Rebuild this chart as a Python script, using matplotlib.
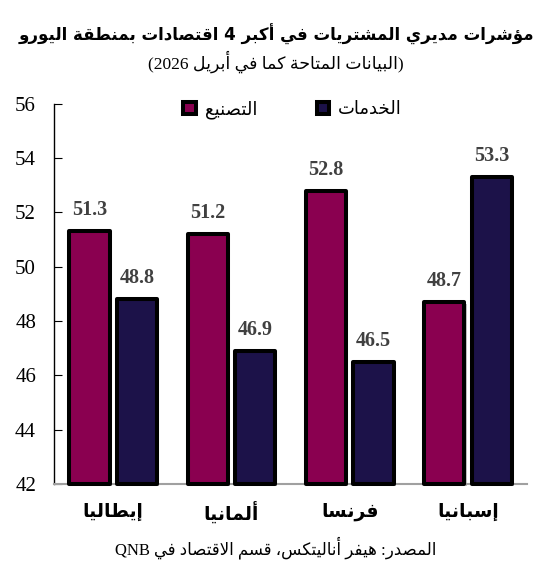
import re
import matplotlib
matplotlib.use('Agg')
import matplotlib.pyplot as plt
import matplotlib.patheffects as pe
import numpy as np

# data
countries = ['إيطاليا', 'ألمانيا', 'فرنسا', 'إسبانيا']
manufacturing = [51.3, 51.2, 52.8, 48.7]
services = [48.8, 46.9, 46.5, 53.3]
series_names = ['التصنيع', 'الخدمات']
yticks = [42, 44, 46, 48, 50, 52, 54, 56]
title = 'مؤشرات مديري المشتريات في أكبر 4 اقتصادات بمنطقة اليورو'
subtitle = '(البيانات المتاحة كما في أبريل 2026)'
source = 'المصدر: هيفر أناليتكس، قسم الاقتصاد في QNB'

# matplotlib does no Arabic shaping, so pick the presentation forms by hand
_letters = 'ءآأؤإئابةتثجحخدذرزسشصضطظعغفقكلمنهوىي'
_nforms = [1, 2, 2, 2, 2, 4, 2, 4, 2, 4, 4, 4, 4, 4, 2, 2, 2, 2, 4, 4,
           4, 4, 4, 4, 4, 4, 4, 4, 4, 4, 4, 4, 4, 2, 2, 4]
FORMS = {}
code = 0xFE80
for ch, n in zip(_letters, _nforms):
    FORMS[ch] = [chr(code + i) for i in range(n)]
    code += n
LAM_ALEF = {'آ': 0xFEF5, 'أ': 0xFEF7, 'إ': 0xFEF9, 'ا': 0xFEFB}
MIRROR = str.maketrans('()', ')(')


def shape(text):
    units = []
    i = 0
    while i < len(text):
        if text[i] == 'ل' and i + 1 < len(text) and text[i + 1] in LAM_ALEF:
            units.append(('LA', text[i + 1]))
            i += 2
        else:
            units.append((text[i], None))
            i += 1

    def joins_next(u):
        return u[0] in FORMS and len(FORMS[u[0]]) == 4

    def joins_prev(u):
        return u[0] == 'LA' or (u[0] in FORMS and len(FORMS[u[0]]) >= 2)

    out = []
    for k, u in enumerate(units):
        p = k > 0 and joins_next(units[k - 1]) and joins_prev(u)
        n = k + 1 < len(units) and joins_next(u) and joins_prev(units[k + 1])
        if u[0] == 'LA':
            out.append(chr(LAM_ALEF[u[1]] + int(p)))
        elif u[0] in FORMS:
            idx = {(False, False): 0, (True, False): 1,
                   (False, True): 2, (True, True): 3}[(bool(p), bool(n))]
            out.append(FORMS[u[0]][idx])
        else:
            out.append(u[0])
    return ''.join(out)


def rtl(text):
    s = shape(text)
    runs = re.findall(r'[A-Za-z0-9.]+|[^A-Za-z0-9.]+', s)
    return ''.join(r if re.match(r'[A-Za-z0-9]', r) else r[::-1].translate(MIRROR)
                   for r in reversed(runs))


plt.rcParams['font.family'] = ['Liberation Serif', 'DejaVu Sans']

fig = plt.figure(figsize=(5.52, 5.76), dpi=100)
ax = fig.add_axes([0.098, 0.16, 0.857, 0.66])

x = np.arange(len(countries))
w = 0.34
shadow = [pe.SimplePatchShadow(offset=(1.5, -1.5), shadow_rgbFace='#999999', alpha=0.6), pe.Normal()]
b1 = ax.bar(x - 0.2, np.array(manufacturing) - 42, w, bottom=42, color='#8a0050',
            edgecolor='black', linewidth=2.9, joinstyle='round', clip_on=False,
            path_effects=shadow, zorder=3, label=rtl(series_names[0]))
b2 = ax.bar(x + 0.2, np.array(services) - 42, w, bottom=42, color='#1c1249',
            edgecolor='black', linewidth=2.9, joinstyle='round', clip_on=False,
            path_effects=shadow, zorder=3, label=rtl(series_names[1]))

for xs, vals in [(x - 0.2, manufacturing), (x + 0.2, services)]:
    for xi, v in zip(xs, vals):
        ax.annotate(f'{v:.1f}', (xi, v), xytext=(0, 11.5), textcoords='offset points',
                    ha='center', va='baseline', fontsize=14.5, fontweight='bold',
                    color='#404040')

ax.set_xlim(-0.5, 3.5)
ax.set_ylim(42, 56)
ax.set_yticks(yticks)
ax.tick_params(axis='y', direction='in', length=6, pad=13, labelsize=15)
ax.set_xticks(x)
ax.set_xticklabels([rtl(c) for c in countries], fontsize=13.5, fontweight='bold',
                   family=['DejaVu Sans'])
ax.tick_params(axis='x', length=0, pad=13)
for s in ['top', 'right']:
    ax.spines[s].set_visible(False)
ax.spines['bottom'].set_color('#a0a0a0')
ax.spines['bottom'].set_linewidth(1.5)
ax.spines['left'].set_linewidth(1)

leg = fig.legend(handles=[b1, b2], loc='center', bbox_to_anchor=(0.53, 0.81), ncol=2,
                 frameon=False, fontsize=13, handlelength=0.7, handleheight=0.7,
                 handletextpad=0.5, columnspacing=3.3)
for t in leg.get_texts():
    t.set_family(['DejaVu Sans'])

fig.text(0.5, 0.94, rtl(title), ha='center', va='center', fontsize=12,
         fontweight='bold', family=['DejaVu Sans'])
fig.text(0.5, 0.893, rtl(subtitle), ha='center', va='center', fontsize=12.5)
fig.text(0.5, 0.05, rtl(source), ha='center', va='center', fontsize=12)

fig.savefig('out.png', dpi=100)
